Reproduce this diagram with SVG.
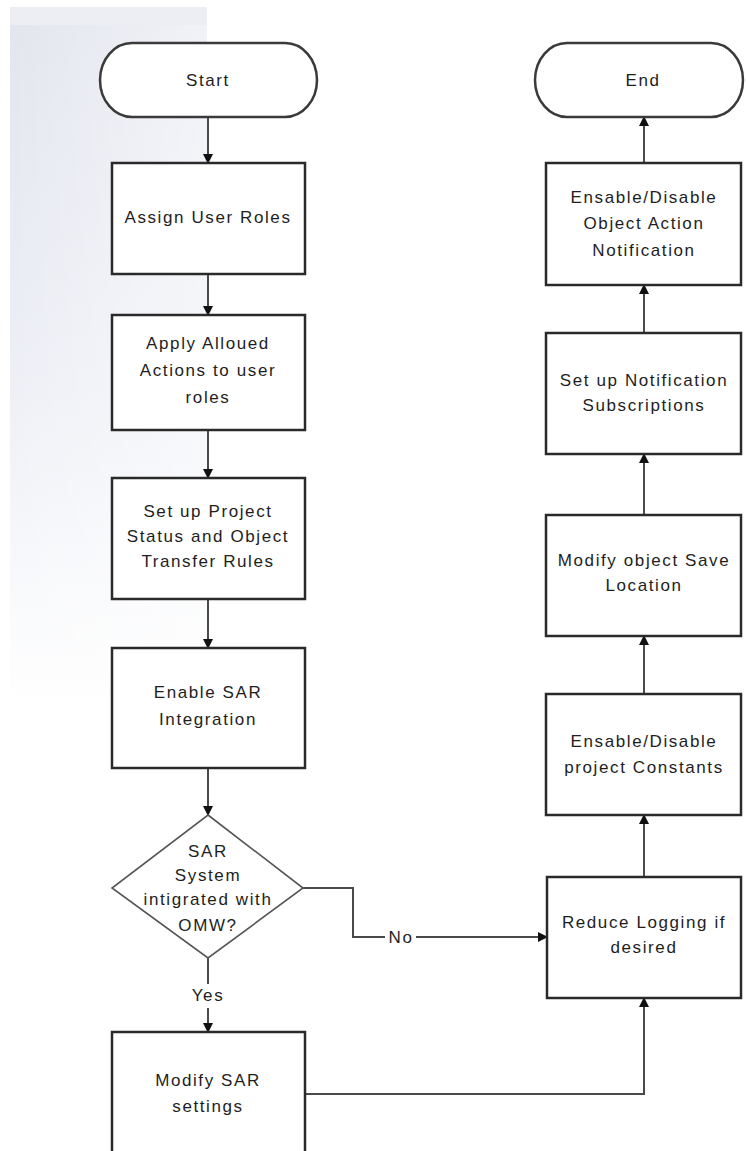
<svg xmlns="http://www.w3.org/2000/svg" width="746" height="1151" viewBox="0 0 746 1151">
<style>
  .box{fill:#fff;stroke:#2a2a2a;stroke-width:2.5}
  .term{fill:#fff;stroke:#3a3a3a;stroke-width:2.5}
  .dia{fill:#fff;stroke:#555;stroke-width:1.6}
  .t{font-family:"Liberation Sans",Arial,sans-serif;font-size:17px;fill:#1e1e1e;text-anchor:middle;letter-spacing:1.6px}
  .c{fill:none;stroke:#4a4a4a;stroke-width:2}
</style>
<defs>
  <linearGradient id="bg" x1="0" y1="0" x2="0" y2="1">
    <stop offset="0" stop-color="#e3e5ee"/>
    <stop offset="0.55" stop-color="#eef0f6"/>
    <stop offset="1" stop-color="#ffffff"/>
  </linearGradient>
  <linearGradient id="bgh" x1="0" y1="0" x2="1" y2="0">
    <stop offset="0" stop-color="#fff" stop-opacity="0"/>
    <stop offset="1" stop-color="#fff" stop-opacity="0.5"/>
  </linearGradient>
  <marker id="ah" markerWidth="10" markerHeight="10" refX="9" refY="5" orient="auto" markerUnits="userSpaceOnUse">
    <path d="M0,0 L10,5 L0,10 z" fill="#111"/>
  </marker>
</defs>
<rect x="0" y="0" width="746" height="1151" fill="#fff"/>
<rect x="10" y="7" width="197" height="700" fill="url(#bg)"/>
<rect x="10" y="7" width="197" height="700" fill="url(#bgh)"/>
<rect x="10" y="7" width="197" height="18" fill="#eceef4"/>

<g id="connectors">
  <line class="c" x1="208" y1="117" x2="208" y2="163" marker-end="url(#ah)"/>
  <line class="c" x1="208" y1="274" x2="208" y2="315" marker-end="url(#ah)"/>
  <line class="c" x1="208" y1="430" x2="208" y2="478" marker-end="url(#ah)"/>
  <line class="c" x1="208" y1="599" x2="208" y2="648" marker-end="url(#ah)"/>
  <line class="c" x1="208" y1="768" x2="208" y2="815" marker-end="url(#ah)"/>
  <line class="c" x1="208" y1="958" x2="208" y2="984"/>
  <line class="c" x1="208" y1="1008" x2="208" y2="1032" marker-end="url(#ah)"/>
  <polyline class="c" points="303,888 353,888 353,937 385,937"/>
  <line class="c" x1="416" y1="937" x2="547" y2="937" marker-end="url(#ah)"/>
  <polyline class="c" points="305,1094 644,1094 644,998" marker-end="url(#ah)"/>
  <line class="c" x1="644" y1="877" x2="644" y2="815" marker-end="url(#ah)"/>
  <line class="c" x1="644" y1="694" x2="644" y2="636" marker-end="url(#ah)"/>
  <line class="c" x1="644" y1="515" x2="644" y2="454" marker-end="url(#ah)"/>
  <line class="c" x1="644" y1="333" x2="644" y2="285" marker-end="url(#ah)"/>
  <line class="c" x1="644" y1="163" x2="644" y2="117" marker-end="url(#ah)"/>
  <text class="t" x="401" y="943">No</text>
  <text class="t" x="208" y="1001">Yes</text>
</g>

<g id="start">
  <rect class="term" x="100" y="43" width="217" height="74" rx="32" ry="37"/>
  <text class="t" x="208" y="86">Start</text>
</g>
<g id="assign">
  <rect class="box" x="112" y="163" width="193" height="111"/>
  <text class="t" x="208" y="223">Assign User Roles</text>
</g>
<g id="apply">
  <rect class="box" x="112" y="315" width="193" height="115"/>
  <text class="t" x="208" y="349">Apply Alloued</text>
  <text class="t" x="208" y="376">Actions to user</text>
  <text class="t" x="208" y="403">roles</text>
</g>
<g id="project">
  <rect class="box" x="112" y="478" width="193" height="121"/>
  <text class="t" x="208" y="517">Set up Project</text>
  <text class="t" x="208" y="542">Status and Object</text>
  <text class="t" x="208" y="567">Transfer Rules</text>
</g>
<g id="enable">
  <rect class="box" x="112" y="648" width="193" height="120"/>
  <text class="t" x="208" y="698">Enable SAR</text>
  <text class="t" x="208" y="725">Integration</text>
</g>
<g id="decision">
  <polygon class="dia" points="208,815 303,888 208,958 112,888"/>
  <text class="t" x="208" y="857">SAR</text>
  <text class="t" x="208" y="881">System</text>
  <text class="t" x="208" y="905">intigrated with</text>
  <text class="t" x="208" y="931">OMW?</text>
</g>
<g id="modifysar">
  <rect class="box" x="112" y="1032" width="193" height="140"/>
  <text class="t" x="208" y="1086">Modify SAR</text>
  <text class="t" x="208" y="1112">settings</text>
</g>

<g id="end">
  <rect class="term" x="535" y="43" width="208" height="74" rx="32" ry="37"/>
  <text class="t" x="643" y="86">End</text>
</g>
<g id="objnotif">
  <rect class="box" x="546" y="163" width="195" height="122"/>
  <text class="t" x="644" y="203">Ensable/Disable</text>
  <text class="t" x="644" y="229">Object Action</text>
  <text class="t" x="644" y="256">Notification</text>
</g>
<g id="subscr">
  <rect class="box" x="546" y="333" width="195" height="121"/>
  <text class="t" x="644" y="386">Set up Notification</text>
  <text class="t" x="644" y="411">Subscriptions</text>
</g>
<g id="saveloc">
  <rect class="box" x="546" y="515" width="195" height="121"/>
  <text class="t" x="644" y="566">Modify object Save</text>
  <text class="t" x="644" y="591">Location</text>
</g>
<g id="constants">
  <rect class="box" x="546" y="694" width="195" height="121"/>
  <text class="t" x="644" y="747">Ensable/Disable</text>
  <text class="t" x="644" y="773">project Constants</text>
</g>
<g id="logging">
  <rect class="box" x="547" y="877" width="194" height="121"/>
  <text class="t" x="644" y="928">Reduce Logging if</text>
  <text class="t" x="644" y="953">desired</text>
</g>
</svg>
